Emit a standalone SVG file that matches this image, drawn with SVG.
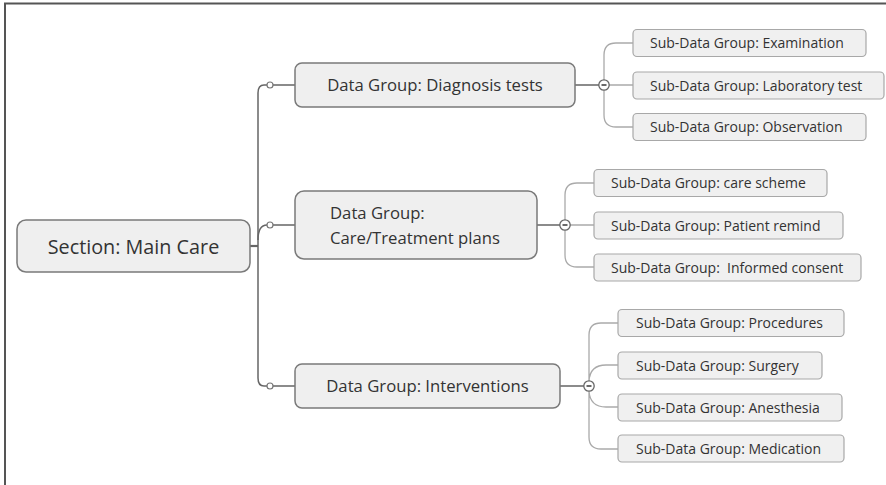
<svg xmlns="http://www.w3.org/2000/svg" width="886" height="485" viewBox="0 0 886 485">
<style>
  .frame{stroke:#555;stroke-width:2;fill:none}
  .main{fill:#efefef;stroke:#7a7a7a;stroke-width:1.5}
  .sub{fill:#f0f0f0;stroke:#a8a8a8;stroke-width:1.2}
  .t{font-family:"Open Sans","Noto Sans","DejaVu Sans",sans-serif;fill:#333}
  .tm{font-size:19.8px}
  .tg{font-size:16.7px}
  .ts{font-size:14px;white-space:pre}
  .trunk{stroke:#666;stroke-width:1.5;fill:none}
  .br{stroke:#aaa;stroke-width:1.3;fill:none}
  .dot{fill:#fff;stroke:#777;stroke-width:1.2}
  .col{fill:#fff;stroke:#666;stroke-width:1.3}
</style>
<rect width="886" height="485" fill="#fff"/>
<path class="frame" d="M5,485 V3.5 H886"/>
<g id="connectors">
  <path class="trunk" d="M250,246 H258" style="stroke-width:2.2"/>
  <path class="trunk" d="M267,85 H264 Q258,85 258,93 V378 Q258,386 264,386 H267"/>
  <path class="trunk" d="M258,240 Q258,225 267,225"/>
  <path class="trunk" d="M273,85 H295 M273,225 H295 M273,386 H295"/>
  <circle class="dot" cx="270" cy="85" r="3"/>
  <circle class="dot" cx="270" cy="225" r="3"/>
  <circle class="dot" cx="270" cy="386" r="3"/>
  <path class="trunk" d="M575,85 H599 M537,225 H560 M560,386 H584"/>
  <path class="br" d="M604,80 V55 Q604,43 616,43 H633 M609,85 H633 M604,90 V115 Q604,127 616,127 H633"/>
  <path class="br" d="M565,220 V195 Q565,183 577,183 H594 M570,225 H594 M565,230 V255 Q565,267 577,267 H594"/>
  <path class="br" d="M589,381 V335 Q589,323 601,323 H618 M589,381 Q590,365 606,365 H618 M589,391 Q590,407 606,407 H618 M589,391 V437 Q589,449 601,449 H618"/>
  <g>
    <circle class="col" cx="604" cy="85" r="5.2"/><path d="M601.5,85 H606.5" stroke="#444" stroke-width="1.6"/>
    <circle class="col" cx="565" cy="225" r="5.2"/><path d="M562.5,225 H567.5" stroke="#444" stroke-width="1.6"/>
    <circle class="col" cx="589" cy="386" r="5.2"/><path d="M586.5,386 H591.5" stroke="#444" stroke-width="1.6"/>
  </g>
</g>
<g id="main">
  <rect class="main" x="17" y="220" width="233" height="52" rx="9"/>
  <text class="t tm" x="133.5" y="253.5" text-anchor="middle">Section: Main Care</text>
</g>
<g id="diagnosis">
  <rect class="main" x="295" y="63" width="280" height="44" rx="7"/>
  <text class="t tg" x="435" y="91" text-anchor="middle">Data Group: Diagnosis tests</text>
</g>
<g id="care">
  <rect class="main" x="295" y="191" width="242" height="68" rx="9"/>
  <text class="t tg" x="330" y="219">Data Group:</text>
  <text class="t tg" x="330" y="243.5">Care/Treatment plans</text>
</g>
<g id="interventions">
  <rect class="main" x="295" y="364" width="265" height="44" rx="7"/>
  <text class="t tg" x="427.5" y="392" text-anchor="middle">Data Group: Interventions</text>
</g>
<g id="examination">
  <rect class="sub" x="633" y="29.5" width="233" height="27" rx="4"/>
  <text class="t ts" x="650" y="48">Sub-Data Group: Examination</text>
</g>
<g id="laboratory">
  <rect class="sub" x="633" y="72" width="251" height="27" rx="4"/>
  <text class="t ts" x="650" y="90.5">Sub-Data Group: Laboratory test</text>
</g>
<g id="observation">
  <rect class="sub" x="633" y="113.5" width="233" height="27" rx="4"/>
  <text class="t ts" x="650" y="132">Sub-Data Group: Observation</text>
</g>
<g id="carescheme">
  <rect class="sub" x="594" y="169.5" width="233" height="27" rx="4"/>
  <text class="t ts" x="611" y="188">Sub-Data Group: care scheme</text>
</g>
<g id="patientremind">
  <rect class="sub" x="594" y="212" width="249" height="27" rx="4"/>
  <text class="t ts" x="611" y="230.5">Sub-Data Group: Patient remind</text>
</g>
<g id="informedconsent">
  <rect class="sub" x="594" y="254" width="267" height="27" rx="4"/>
  <text class="t ts" x="611" y="272.5" xml:space="preserve">Sub-Data Group:  Informed consent</text>
</g>
<g id="procedures">
  <rect class="sub" x="618" y="309.5" width="226" height="27" rx="4"/>
  <text class="t ts" x="636" y="328">Sub-Data Group: Procedures</text>
</g>
<g id="surgery">
  <rect class="sub" x="618" y="352" width="204" height="27" rx="4"/>
  <text class="t ts" x="636" y="370.5">Sub-Data Group: Surgery</text>
</g>
<g id="anesthesia">
  <rect class="sub" x="618" y="394" width="224" height="27" rx="4"/>
  <text class="t ts" x="636" y="412.5">Sub-Data Group: Anesthesia</text>
</g>
<g id="medication">
  <rect class="sub" x="618" y="435" width="226" height="27" rx="4"/>
  <text class="t ts" x="636" y="453.5">Sub-Data Group: Medication</text>
</g>
</svg>
